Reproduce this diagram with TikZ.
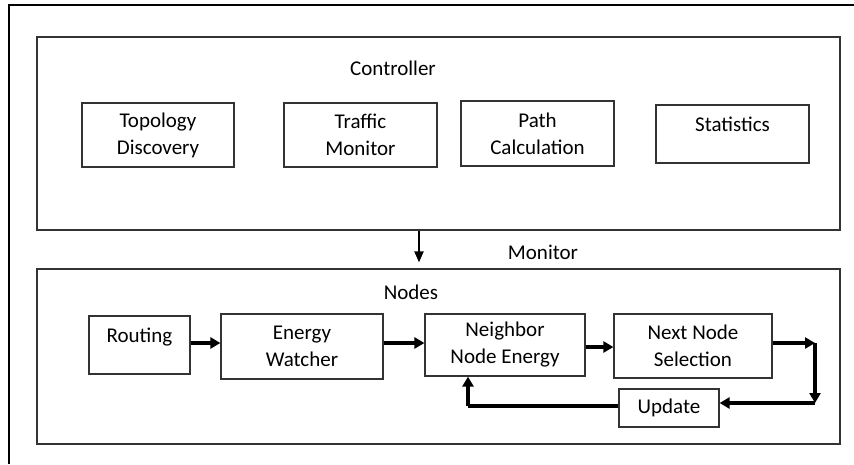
\documentclass[tikz,border=0pt]{standalone}
\usepackage{fontspec}
\setmainfont{Carlito}
\usetikzlibrary{arrows.meta, positioning}

\begin{document}
\begin{tikzpicture}[x=1pt, y=-1pt,
        frame/.style={draw=black!80, line width=1.2pt},
        blk/.style={draw=black!80, line width=1.2pt, align=center, inner sep=0pt,
            font=\fontsize{21}{27}\selectfont},
        toptext/.style={text height=14pt, text depth=19pt},
        lbl/.style={font=\fontsize{21}{27}\selectfont},
        flow/.style={line width=3.4pt, -{Triangle[length=10pt, width=11pt]}}]
        \useasboundingbox (0,0) rectangle (854,464);
        % outer frame (cropped)
        \draw[line width=1.2pt] (9,464) -- (9,5) -- (854,5);

        \node[frame, minimum width=803pt, minimum height=193pt] (ctrl) at (438.5,133.5) {};
        \node[frame, minimum width=803pt, minimum height=175pt] (nodebox) at (438.5,356.5) {};
        \node[lbl] (ctrltxt) at (393,68) {Controller};
        \node[lbl] (nodestxt) at (411,292) {Nodes};
        \node[lbl] (montxt) at (543,252) {Monitor};

        \node[blk, minimum width=152pt, minimum height=64pt] (topo) at (158,135) {Topology\\Discovery};
        \node[blk, minimum width=153pt, minimum height=64pt] (traffic) at (360.5,135) {Traffic\\Monitor};
        \node[blk, minimum width=153pt, minimum height=65pt] (path) at (537.5,133.5) {Path\\Calculation};
        \node[blk, toptext, minimum width=153pt, minimum height=58pt] (stats) at (732.5,134) {Statistics};

        \node[blk, toptext, minimum width=101pt, minimum height=58pt] (routing) at (139.5,345) {Routing};
        \node[blk, minimum width=162pt, minimum height=65pt] (energy) at (302,346.5) {Energy\\Watcher};
        \node[blk, minimum width=160pt, minimum height=62pt] (neigh) at (505,345) {Neighbor\\Node Energy};
        \node[blk, minimum width=158pt, minimum height=64pt] (next) at (693,346) {Next Node\\Selection};
        \node[blk, minimum width=100pt, minimum height=38pt] (update) at (669,408) {Update};

        \coordinate (mon) at (419,0);
        \coordinate (rt) at (815,343);
        \coordinate (rb) at (815,403);
        \coordinate (lb) at (468,406);

        \draw[line width=2pt, -{Triangle[length=11pt, width=9pt]}, shorten >=6pt]
            (ctrl.south -| mon) -- (nodebox.north -| mon);

        \draw[flow] (routing.east |- 0,343) -- (energy.west |- 0,343);
        \draw[flow] (energy.east |- 0,343) -- (neigh.west |- 0,343);
        \draw[flow] (neigh.east |- 0,347) -- (next.west |- 0,347);
        \draw[flow] (next.east |- rt) -- (rt);
        \draw[flow] (rt) -- (rb);
        \draw[flow] (rb) -- (rb -| update.east);
        \draw[line width=3.4pt] (update.west |- lb) -- (lb);
        \draw[flow] (lb) -- (lb |- neigh.south);
\end{tikzpicture}
\end{document}
